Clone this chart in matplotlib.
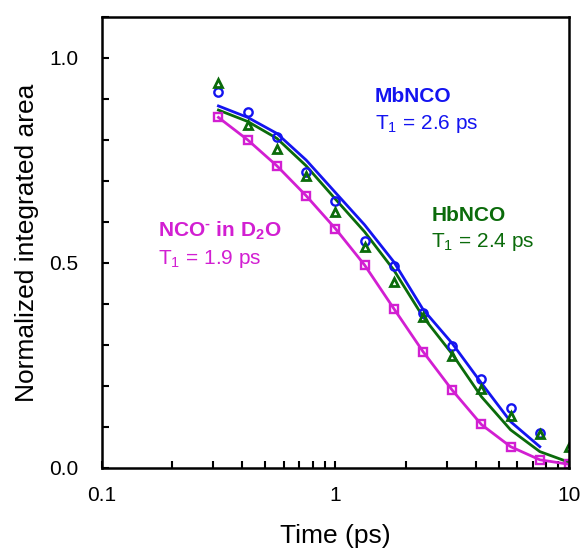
import numpy as np
import matplotlib
matplotlib.use("Agg")
import matplotlib.pyplot as plt
from matplotlib.ticker import MultipleLocator, LogLocator, NullFormatter, FixedLocator, FixedFormatter

plt.rcParams['font.family'] = ['Liberation Sans', 'DejaVu Sans']
plt.rcParams['mathtext.default'] = 'regular'

# delay times (ps)
t = [0.316, 0.422, 0.562, 0.750, 1.000, 1.334, 1.778, 2.371, 3.162, 4.217, 5.623, 7.499, 10.0]

# MbNCO data and fit (up to 7.5 ps)
mb_data = [0.918, 0.869, 0.808, 0.723, 0.652, 0.554, 0.493, 0.377, 0.298, 0.217, 0.147, 0.085]
mb_fit = [0.883, 0.855, 0.816, 0.751, 0.672, 0.593, 0.503, 0.387, 0.304, 0.207, 0.113, 0.052]

# HbNCO data and fit
hb_data = [0.938, 0.837, 0.779, 0.712, 0.625, 0.540, 0.453, 0.369, 0.273, 0.192, 0.128, 0.084, 0.050]
hb_fit = [0.873, 0.845, 0.804, 0.737, 0.656, 0.576, 0.483, 0.369, 0.278, 0.174, 0.093, 0.040, 0.014]

# NCO- in D2O data and fit
nco_data = [0.855, 0.800, 0.737, 0.664, 0.583, 0.495, 0.389, 0.284, 0.190, 0.107, 0.051, 0.020, 0.009]
nco_fit = [0.855, 0.800, 0.737, 0.664, 0.584, 0.495, 0.389, 0.284, 0.190, 0.106, 0.052, 0.020, 0.009]

blue = '#1414f0'
green = '#0b6b0b'
magenta = '#d21fd2'

fig = plt.figure(figsize=(5.82, 5.48), dpi=100)
ax = fig.add_axes([0.1747, 0.146, 0.803, 0.823])

ax.plot(t[:len(mb_fit)], mb_fit, color=blue, lw=2)
ax.plot(t, hb_fit, color=green, lw=2)
ax.plot(t, nco_fit, color=magenta, lw=2)

ax.plot(t[:len(mb_data)], mb_data, 'o', mfc='none', mec=blue, ms=6, mew=1.7)
ax.plot(t, hb_data, '^', mfc='none', mec=green, ms=5.5, mew=2)
ax.plot(t, nco_data, 's', mfc='none', mec=magenta, ms=6, mew=1.7)

ax.set_xscale('log')
ax.set_xlim(0.1, 10)
ax.set_ylim(0, 1.1)

ax.xaxis.set_major_locator(FixedLocator([0.1, 1, 10]))
ax.xaxis.set_major_formatter(FixedFormatter(['0.1', '1', '10']))
ax.xaxis.set_minor_locator(LogLocator(base=10, subs=np.arange(2, 10)))
ax.xaxis.set_minor_formatter(NullFormatter())
ax.yaxis.set_major_locator(FixedLocator([0.0, 0.5, 1.0]))
ax.yaxis.set_major_formatter(FixedFormatter(['0.0', '0.5', '1.0']))
ax.yaxis.set_minor_locator(MultipleLocator(0.1))

ax.tick_params(which='both', direction='in', length=5, width=1.5, labelsize=15)
ax.tick_params(axis='y', pad=17)
ax.tick_params(axis='x', pad=13)
for s in ax.spines.values():
    s.set_linewidth(1.8)

ax.set_xlabel('Time (ps)', fontsize=19, labelpad=14)
ax.set_ylabel('Normalized integrated area', fontsize=19, labelpad=7)

ax.text(0.585, 0.811, 'MbNCO', transform=ax.transAxes, color=blue, fontsize=15,
        fontweight='bold', va='baseline')
ax.text(0.585, 0.752, 'T$_1$ = 2.6 ps', transform=ax.transAxes, color=blue, fontsize=15,
        va='baseline')
ax.text(0.705, 0.548, 'HbNCO', transform=ax.transAxes, color=green, fontsize=15,
        fontweight='bold', va='baseline')
ax.text(0.705, 0.489, 'T$_1$ = 2.4 ps', transform=ax.transAxes, color=green, fontsize=15,
        va='baseline')
ax.text(0.120, 0.512, 'NCO$^{\u2010}$ in D$_2$O', transform=ax.transAxes, color=magenta, fontsize=15,
        fontweight='bold', va='baseline')
ax.text(0.120, 0.453, 'T$_1$ = 1.9 ps', transform=ax.transAxes, color=magenta, fontsize=15,
        va='baseline')

fig.savefig('out.png', dpi=100)
